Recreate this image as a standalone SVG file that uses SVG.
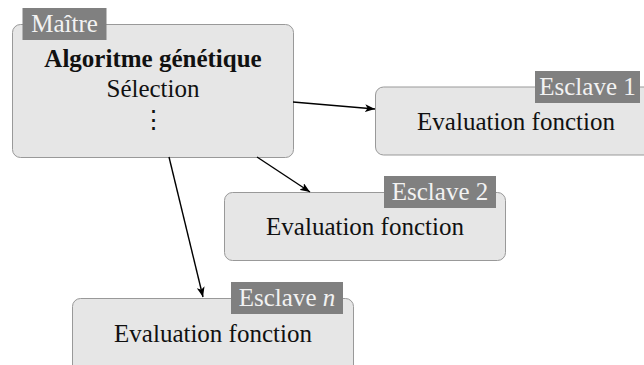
<svg xmlns="http://www.w3.org/2000/svg" width="644" height="365" viewBox="0 0 644 365">
<style>
.box{fill:#e6e6e6;stroke:#999;stroke-width:1}
.lab{fill:#808080}
.t{font-family:"Liberation Serif","Times New Roman",serif;font-size:25px;fill:#111;text-anchor:middle}
.lt{font-family:"Liberation Serif","Times New Roman",serif;font-size:25px;fill:#f2f2f2;text-anchor:middle}
.b{font-weight:bold}
.edge{stroke:#000;stroke-width:1.4;fill:none;marker-end:url(#ah)}
</style>
<defs>
<marker id="ah" viewBox="0 0 10 8" refX="10" refY="4" markerWidth="10" markerHeight="8" markerUnits="userSpaceOnUse" orient="auto">
<path d="M0,0 L10,4 L0,8 L2.5,4 Z" fill="#000"/>
</marker>
</defs>
<rect width="644" height="365" fill="#fff"/>
<g id="maitre">
<rect class="box" x="12.5" y="24.5" width="281" height="133" rx="8"/>
<rect class="lab" x="22.5" y="8" width="84" height="32"/>
<text class="lt" x="64.5" y="32">Maître</text>
<text class="t b" x="153" y="67">Algoritme génétique</text>
<text class="t" x="153" y="97">Sélection</text>
<text class="t" x="153" y="128" style="font-family:'DejaVu Serif',serif">⋮</text>
</g>
<g id="esclave1">
<rect class="box" x="375.5" y="87" width="281" height="68" rx="8"/>
<rect class="lab" x="535" y="71" width="105" height="32"/>
<text class="lt" x="587.5" y="95">Esclave 1</text>
<text class="t" x="516" y="130">Evaluation fonction</text>
</g>
<g id="esclave2">
<rect class="box" x="224.5" y="192.5" width="281" height="68" rx="8"/>
<rect class="lab" x="384" y="176" width="112" height="32"/>
<text class="lt" x="440" y="200">Esclave 2</text>
<text class="t" x="365" y="235">Evaluation fonction</text>
</g>
<g id="esclaven">
<rect class="box" x="72.5" y="298.5" width="281" height="80" rx="8"/>
<rect class="lab" x="231" y="282" width="112" height="32"/>
<text class="lt" x="287" y="306">Esclave <tspan font-style="italic">n</tspan></text>
<text class="t" x="213" y="342">Evaluation fonction</text>
</g>
<g id="connectors">
<line class="edge" x1="293" y1="102" x2="375" y2="109"/>
<line class="edge" x1="257" y1="157" x2="310" y2="192"/>
<line class="edge" x1="169" y1="157" x2="203" y2="297"/>
</g>
</svg>
